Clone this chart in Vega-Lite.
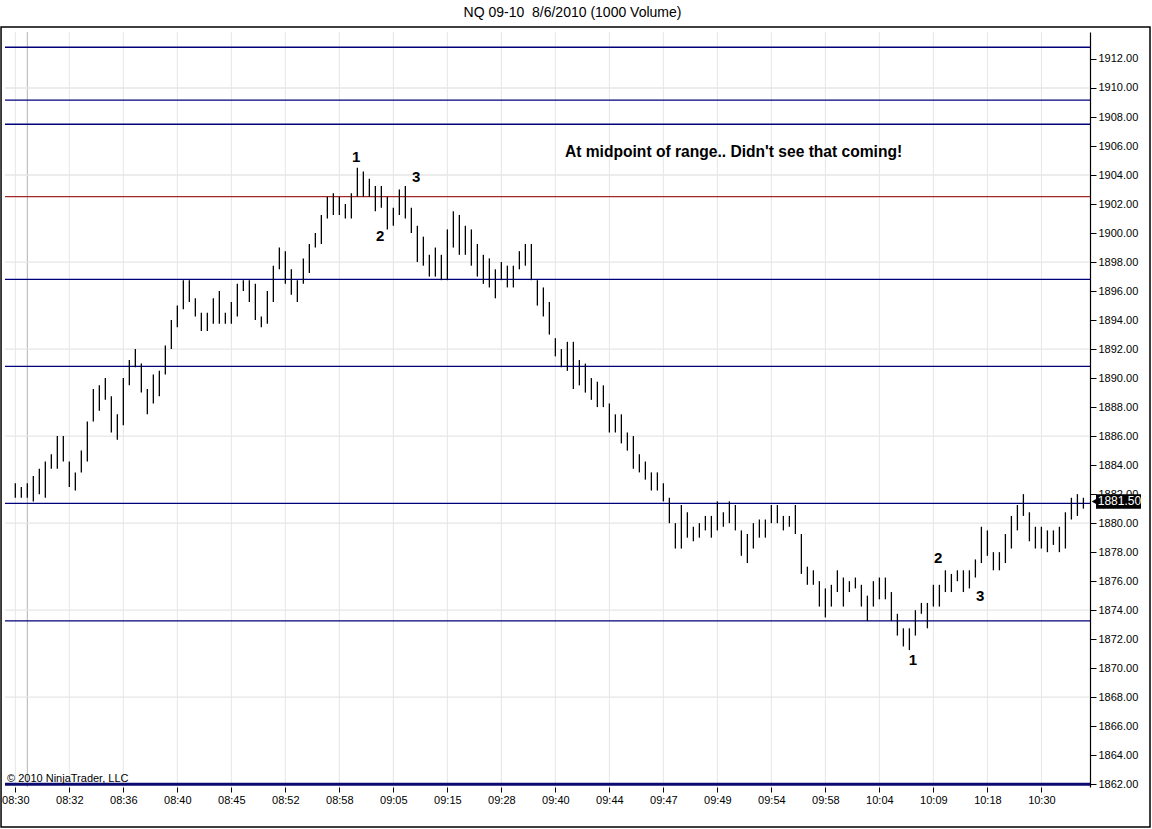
{
  "$schema": "https://vega.github.io/schema/vega-lite/v6.json",
  "width": 1085,
  "height": 755,
  "autosize": {"type": "none"},
  "padding": {"left": 5, "top": 32, "right": 62, "bottom": 42},
  "title": {
    "text": "NQ 09-10\u00a0 8/6/2010 (1000 Volume)",
    "font": "Liberation Sans",
    "fontSize": 14,
    "fontWeight": "normal",
    "color": "black",
    "dx": 25,
    "offset": 6
  },
  "config": {
    "view": {"stroke": null},
    "font": "Liberation Sans",
    "axis": {"grid": false, "title": null, "labelOverlap": false, "labelFont": "Liberation Sans", "labelFontSize": 11, "labelColor": "black", "tickColor": "black"}
  },
  "data": {
    "values": [
      {"i":0,"h":1882.75,"l":1881.75},{"i":1,"h":1882.5,"l":1881.75},{"i":2,"h":1882.75,"l":1881.75},{"i":3,"h":1883.25,"l":1881.5},
      {"i":4,"h":1883.75,"l":1882},{"i":5,"h":1884.25,"l":1881.75},{"i":6,"h":1884.75,"l":1883.75},{"i":7,"h":1886,"l":1883.75},
      {"i":8,"h":1886,"l":1884.25},{"i":9,"h":1884.25,"l":1882.5},{"i":10,"h":1883.5,"l":1882.25},{"i":11,"h":1885,"l":1883.5},
      {"i":12,"h":1887,"l":1884.25},{"i":13,"h":1889.25,"l":1887},{"i":14,"h":1889.5,"l":1887.75},{"i":15,"h":1890,"l":1888.5},
      {"i":16,"h":1888.75,"l":1886.25},{"i":17,"h":1887.5,"l":1885.75},{"i":18,"h":1890,"l":1886.75},{"i":19,"h":1891.25,"l":1889.5},
      {"i":20,"h":1892,"l":1890.75},{"i":21,"h":1891,"l":1889},{"i":22,"h":1889.25,"l":1887.5},{"i":23,"h":1890.25,"l":1888.25},
      {"i":24,"h":1890.5,"l":1888.75},{"i":25,"h":1892.25,"l":1890.25},{"i":26,"h":1894,"l":1892},{"i":27,"h":1895,"l":1893.5},
      {"i":28,"h":1896.75,"l":1894.75},{"i":29,"h":1896.75,"l":1895.25},{"i":30,"h":1895.5,"l":1894.25},{"i":31,"h":1894.5,"l":1893.25},
      {"i":32,"h":1894.5,"l":1893.25},{"i":33,"h":1895.5,"l":1893.75},{"i":34,"h":1896,"l":1893.75},{"i":35,"h":1894.5,"l":1893.75},
      {"i":36,"h":1895.25,"l":1893.75},{"i":37,"h":1896.5,"l":1894.25},{"i":38,"h":1896.75,"l":1896},{"i":39,"h":1896.75,"l":1895.25},
      {"i":40,"h":1896.5,"l":1894},{"i":41,"h":1894.25,"l":1893.5},{"i":42,"h":1896,"l":1893.75},{"i":43,"h":1897.75,"l":1895.25},
      {"i":44,"h":1899,"l":1897.5},{"i":45,"h":1898.75,"l":1896.5},{"i":46,"h":1897.5,"l":1895.75},{"i":47,"h":1896.75,"l":1895.25},
      {"i":48,"h":1898.25,"l":1896.5},{"i":49,"h":1899.25,"l":1897.25},{"i":50,"h":1900,"l":1899},{"i":51,"h":1901.25,"l":1899.25},
      {"i":52,"h":1902.5,"l":1901},{"i":53,"h":1902.75,"l":1901.25},{"i":54,"h":1902.5,"l":1901.25},{"i":55,"h":1902,"l":1901},
      {"i":56,"h":1902.75,"l":1901},{"i":57,"h":1904.5,"l":1902.5},{"i":58,"h":1904.25,"l":1902.5},{"i":59,"h":1903.75,"l":1902.5},
      {"i":60,"h":1903.25,"l":1901.5},{"i":61,"h":1903.25,"l":1901.75},{"i":62,"h":1902.5,"l":1900.25},{"i":63,"h":1901.75,"l":1900.5},
      {"i":64,"h":1903,"l":1901.25},{"i":65,"h":1903.25,"l":1901},{"i":66,"h":1901.75,"l":1900},{"i":67,"h":1900.5,"l":1898},
      {"i":68,"h":1899.75,"l":1897.75},{"i":69,"h":1898.5,"l":1897},{"i":70,"h":1899,"l":1897},{"i":71,"h":1898.5,"l":1896.75},
      {"i":72,"h":1900.25,"l":1896.75},{"i":73,"h":1901.5,"l":1899},{"i":74,"h":1901.25,"l":1898.5},{"i":75,"h":1900.5,"l":1898.5},
      {"i":76,"h":1900.25,"l":1897.75},{"i":77,"h":1899.25,"l":1897},{"i":78,"h":1898.5,"l":1896.5},{"i":79,"h":1898.25,"l":1896.25},
      {"i":80,"h":1897.5,"l":1895.5},{"i":81,"h":1898,"l":1896.75},{"i":82,"h":1897.75,"l":1896.25},{"i":83,"h":1897.75,"l":1896.25},
      {"i":84,"h":1898.75,"l":1897.5},{"i":85,"h":1899.25,"l":1897.75},{"i":86,"h":1899.25,"l":1896.75},{"i":87,"h":1896.75,"l":1895},
      {"i":88,"h":1896.25,"l":1894.25},{"i":89,"h":1895.25,"l":1893},{"i":90,"h":1892.75,"l":1891.5},{"i":91,"h":1892,"l":1890.75},
      {"i":92,"h":1892.5,"l":1890.5},{"i":93,"h":1892.5,"l":1889.25},{"i":94,"h":1891.25,"l":1889.5},{"i":95,"h":1891,"l":1889},
      {"i":96,"h":1890,"l":1888.5},{"i":97,"h":1889.75,"l":1888},{"i":98,"h":1889.5,"l":1888},{"i":99,"h":1888.25,"l":1886.25},
      {"i":100,"h":1887.5,"l":1886.25},{"i":101,"h":1887.5,"l":1885.5},{"i":102,"h":1886.25,"l":1885},{"i":103,"h":1886,"l":1883.75},
      {"i":104,"h":1884.75,"l":1883.5},{"i":105,"h":1884.25,"l":1883},{"i":106,"h":1883.5,"l":1882.25},{"i":107,"h":1883.5,"l":1882.25},
      {"i":108,"h":1882.75,"l":1881.5},{"i":109,"h":1881.75,"l":1880},{"i":110,"h":1880,"l":1878.25},{"i":111,"h":1881.25,"l":1878.25},
      {"i":112,"h":1880.75,"l":1879},{"i":113,"h":1879.75,"l":1878.75},{"i":114,"h":1880,"l":1879},{"i":115,"h":1880.5,"l":1879.5},
      {"i":116,"h":1880.5,"l":1879},{"i":117,"h":1881.5,"l":1879.5},{"i":118,"h":1880.75,"l":1879.75},{"i":119,"h":1881.5,"l":1880},
      {"i":120,"h":1881.25,"l":1879.5},{"i":121,"h":1879.5,"l":1877.75},{"i":122,"h":1879.25,"l":1877.25},{"i":123,"h":1880,"l":1878.25},
      {"i":124,"h":1880.25,"l":1879},{"i":125,"h":1880.25,"l":1879},{"i":126,"h":1881.25,"l":1880},{"i":127,"h":1881.25,"l":1880},
      {"i":128,"h":1880.5,"l":1879.5},{"i":129,"h":1880.5,"l":1879.75},{"i":130,"h":1881.25,"l":1879.25},{"i":131,"h":1879.25,"l":1876.5},
      {"i":132,"h":1877,"l":1875.75},{"i":133,"h":1876.75,"l":1875.75},{"i":134,"h":1876,"l":1874.25},{"i":135,"h":1875.5,"l":1873.5},
      {"i":136,"h":1875.75,"l":1874.25},{"i":137,"h":1876.75,"l":1875.25},{"i":138,"h":1876.25,"l":1874.25},{"i":139,"h":1876,"l":1875.25},
      {"i":140,"h":1876.25,"l":1875.5},{"i":141,"h":1875.75,"l":1874.25},{"i":142,"h":1875,"l":1873.25},{"i":143,"h":1876,"l":1874.25},
      {"i":144,"h":1876.25,"l":1874.75},{"i":145,"h":1876.25,"l":1874.75},{"i":146,"h":1875.25,"l":1873.25},{"i":147,"h":1873.75,"l":1872.25},
      {"i":148,"h":1872.75,"l":1871.5},{"i":149,"h":1872.75,"l":1871.25},{"i":150,"h":1874,"l":1872.25},{"i":151,"h":1874.5,"l":1873.75},
      {"i":152,"h":1874.5,"l":1872.75},{"i":153,"h":1875.75,"l":1874.25},{"i":154,"h":1875.75,"l":1874.25},{"i":155,"h":1876.75,"l":1875.25},
      {"i":156,"h":1876.5,"l":1875.25},{"i":157,"h":1876.75,"l":1876},{"i":158,"h":1876.75,"l":1875.25},{"i":159,"h":1876.75,"l":1875.5},
      {"i":160,"h":1877.5,"l":1876.25},{"i":161,"h":1879.75,"l":1877.25},{"i":162,"h":1879.5,"l":1877.75},{"i":163,"h":1878,"l":1876.75},
      {"i":164,"h":1878,"l":1876.75},{"i":165,"h":1879.25,"l":1877.25},{"i":166,"h":1880.5,"l":1878.25},{"i":167,"h":1881.25,"l":1879.5},
      {"i":168,"h":1882,"l":1880.5},{"i":169,"h":1880.75,"l":1878.75},{"i":170,"h":1879.75,"l":1878.25},{"i":171,"h":1879.75,"l":1878.25},
      {"i":172,"h":1879.5,"l":1878},{"i":173,"h":1879.5,"l":1878.5},{"i":174,"h":1879.75,"l":1878},{"i":175,"h":1880.75,"l":1878.25},
      {"i":176,"h":1881.75,"l":1880.25},{"i":177,"h":1882,"l":1880.5},{"i":178,"h":1881.75,"l":1881}
    ]
  },
  "encoding": {
    "x": {
      "field": "i", "type": "quantitative", "title": null,
      "scale": {"domain": [-1.72, 179.1], "nice": false, "zero": false},
      "axis": {
        "title": null, "values": [0,9,18,27,36,45,54,63,72,81,90,99,108,117,126,135,144,153,162,171],
        "labelExpr": "['08:30','08:32','08:36','08:40','08:45','08:52','08:58','09:05','09:15','09:28','09:40','09:44','09:47','09:49','09:54','09:58','10:04','10:09','10:18','10:30'][round(datum.value/9)]",
        "grid": false, "domain": false, "tickColor": "black", "tickSize": 5, "labelOverlap": false,
        "labelFont": "Liberation Sans", "labelFontSize": 11, "labelColor": "black", "labelPadding": 2, "labelFlush": false
      }
    },
    "y": {
      "field": "p", "type": "quantitative", "title": null,
      "scale": {"domain": [1861.81, 1913.86], "nice": false, "zero": false},
      "axis": {
        "title": null, "orient": "right", "labelOverlap": false,
        "values": [1862,1864,1866,1868,1870,1872,1874,1876,1878,1880,1882,1884,1886,1888,1890,1892,1894,1896,1898,1900,1902,1904,1906,1908,1910,1912],
        "format": ".2f", "grid": false, "domainColor": "black", "domainWidth": 1.2, "tickColor": "black", "tickSize": 6,
        "labelFont": "Liberation Sans", "labelFontSize": 11, "labelColor": "black", "labelPadding": 2
      }
    }
  },
  "layer": [
    {
      "data": {"values": [{"i":0},{"i":9},{"i":18},{"i":27},{"i":36},{"i":45},{"i":54},{"i":63},{"i":72},{"i":81},{"i":90},{"i":99},{"i":108},{"i":117},{"i":126},{"i":135},{"i":144},{"i":153},{"i":162},{"i":171},{"i":2,"k":"s"}]},
      "mark": {"type": "rule", "strokeWidth": 1},
      "encoding": {
        "y": null,
        "color": {"condition": {"test": "datum.k === 's'", "value": "#b4b4b4"}, "value": "#e6e6e6"}
      }
    },
    {
      "data": {"values": [
        {"p":1868,"k":"grid"},{"p":1874,"k":"grid"},{"p":1880,"k":"grid"},{"p":1886,"k":"grid"},{"p":1892,"k":"grid"},{"p":1898,"k":"grid"},{"p":1904,"k":"grid"},{"p":1910,"k":"grid"},
        {"p":1912.81,"k":"level"},{"p":1909.17,"k":"level"},{"p":1907.5,"k":"level"},{"p":1896.81,"k":"level"},{"p":1890.81,"k":"level"},{"p":1881.37,"k":"level"},{"p":1873.26,"k":"level"},
        {"p":1902.51,"k":"mid"}
      ]},
      "mark": {"type": "rule", "strokeWidth": 1.3},
      "encoding": {
        "x": null,
        "color": {
          "field": "k", "type": "nominal", "legend": null,
          "scale": {"domain": ["grid", "level", "mid"], "range": ["#e6e6e6", "#00007a", "#a02828"]}
        }
      }
    },
    {
      "data": {"values": [{"p":1862}]},
      "mark": {"type": "rule", "color": "#0a0a70", "strokeWidth": 3},
      "encoding": {"x": null}
    },
    {
      "mark": {"type": "rule", "color": "black", "strokeWidth": 1.3},
      "encoding": {
        "y": {"field": "l", "type": "quantitative", "title": null, "scale": {"domain": [1861.81, 1913.86], "nice": false, "zero": false}},
        "y2": {"field": "h"}
      }
    },
    {
      "data": {"values": [
        {"i":56.8,"p":1905.24,"t":"1"},{"i":60.8,"p":1899.8,"t":"2"},{"i":66.8,"p":1903.87,"t":"3"},
        {"i":149.6,"p":1870.57,"t":"1"},{"i":153.8,"p":1877.6,"t":"2"},{"i":160.8,"p":1874.98,"t":"3"}
      ]},
      "mark": {"type": "text", "font": "Liberation Sans", "fontSize": 15, "fontWeight": "bold", "color": "black", "align": "center", "baseline": "middle"},
      "encoding": {"text": {"field": "t"}}
    },
    {
      "data": {"values": [{"i":91.6,"p":1905.59,"t":"At midpoint of range.. Didn't see that coming!"}]},
      "mark": {"type": "text", "font": "Liberation Sans", "fontSize": 15.6, "fontWeight": "bold", "color": "black", "align": "left", "baseline": "middle"},
      "encoding": {"text": {"field": "t"}}
    },
    {
      "data": {"values": [{"i":-1.38,"p":1862.37,"t":"© 2010 NinjaTrader, LLC"}]},
      "mark": {"type": "text", "font": "Liberation Sans", "fontSize": 11, "color": "black", "align": "left", "baseline": "middle"},
      "encoding": {"text": {"field": "t"}}
    },
    {
      "data": {"values": [{"i":-2.38,"i2":189.1,"p":1914.2,"p2":1859.06}]},
      "mark": {"type": "rect", "filled": false, "stroke": "black", "strokeWidth": 1.5, "clip": false},
      "encoding": {"x2": {"field": "i2"}, "y2": {"field": "p2"}}
    },
    {
      "data": {"values": [{"i":180.1,"i2":187.6,"p":1881.0,"p2":1882.0}]},
      "mark": {"type": "rect", "color": "black", "clip": false},
      "encoding": {"x2": {"field": "i2"}, "y2": {"field": "p2"}}
    },
    {
      "data": {"values": [{"i":180.4,"p":1881.5}]},
      "mark": {"type": "point", "shape": "triangle-left", "filled": true, "color": "black", "size": 196, "opacity": 1, "clip": false}
    },
    {
      "data": {"values": [{"i":184.0,"p":1881.5,"t":"1881.50"}]},
      "mark": {"type": "text", "font": "Liberation Sans", "fontSize": 12, "color": "white", "align": "center", "baseline": "middle", "clip": false},
      "encoding": {"text": {"field": "t"}}
    }
  ]
}
